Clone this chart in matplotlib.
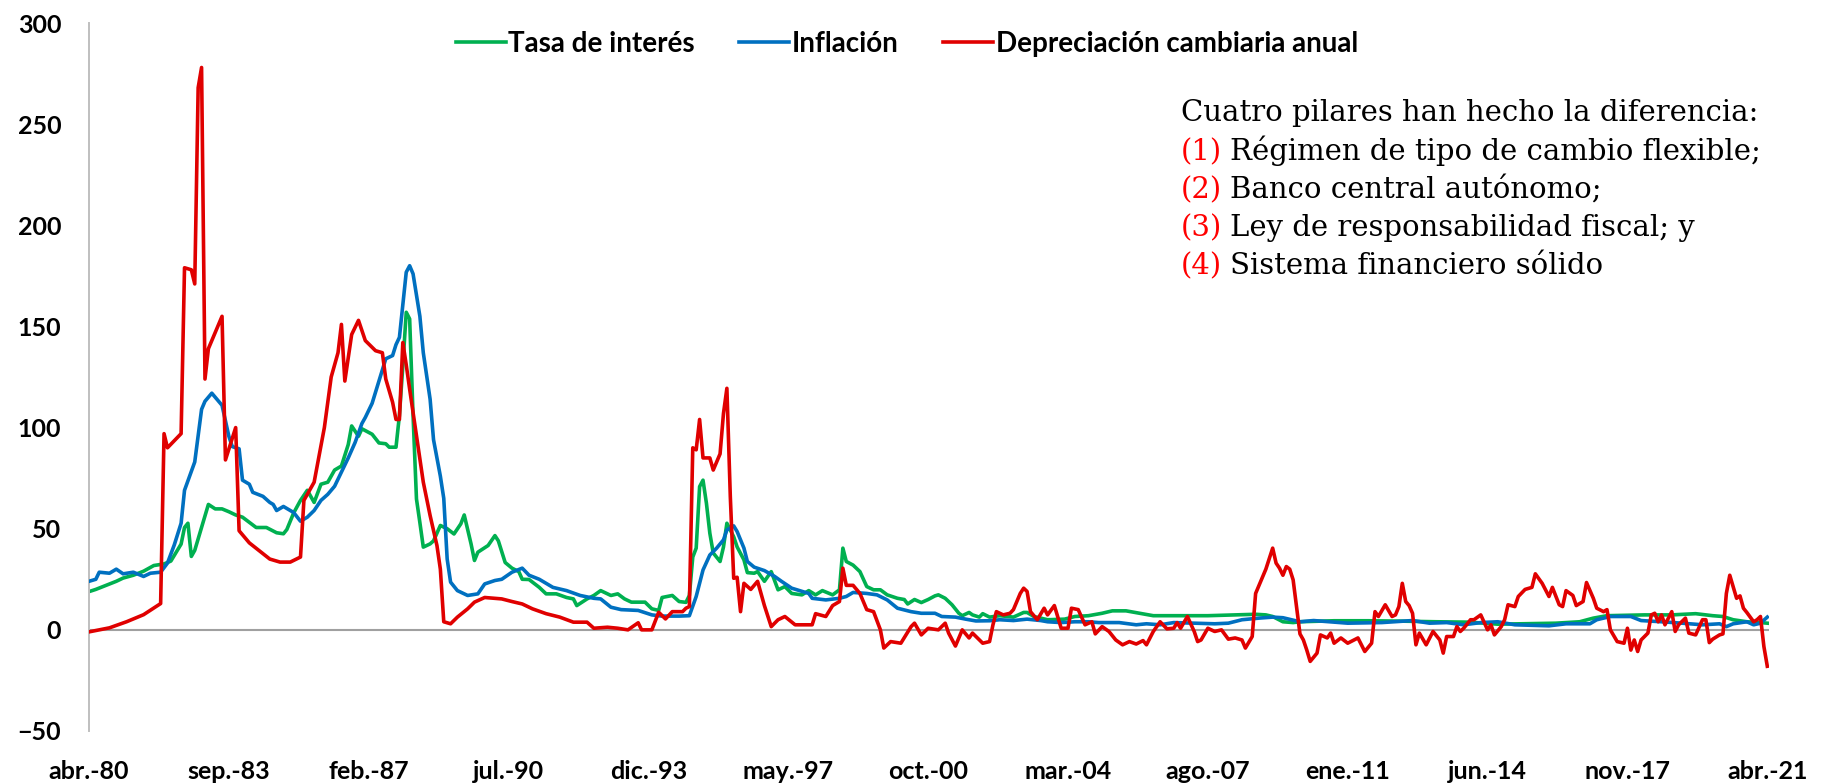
import matplotlib.pyplot as plt

# Months counted from abr.-80 (0) to abr.-21 (492), values in percent.
tasa_mes = [0, 2, 5, 8, 10, 13, 16, 19, 22, 24, 27, 28, 29, 30, 31, 33, 35, 37, 39, 41,
            43, 45, 49, 52, 55, 57, 58, 60, 62, 64, 65, 66, 68, 70, 72, 74, 76, 77, 79, 80,
            83, 85, 87, 88, 90, 91, 92, 93, 94, 95, 96, 97, 98, 100, 101, 103, 105, 107, 109, 110,
            112, 113, 114, 117, 119, 120, 122, 124, 126, 127, 129, 132, 134, 137, 140, 142, 143, 146, 148, 150,
            153, 155, 157, 159, 163, 165, 167, 168, 171, 173, 175, 176, 177, 178, 179, 180, 181, 182, 183, 185,
            186, 187, 189, 190, 192, 193, 195, 196, 198, 200, 202, 204, 206, 209, 211, 213, 215, 218, 220, 221,
            222, 224, 226, 228, 230, 232, 234, 237, 239, 240, 242, 244, 246, 248, 249, 251, 253, 255, 256, 258,
            259, 261, 262, 264, 267, 271, 274, 275, 277, 281, 286, 289, 293, 297, 300, 304, 308, 312, 320, 328,
            336, 342, 345, 347, 350, 353, 355, 365, 375, 385, 395, 405, 413, 420, 430, 437, 441, 445, 456, 464,
            471, 476, 479, 482, 486, 490, 492]
tasa = [18.9, 20, 22, 24, 25.6, 27, 29, 31.8, 32.6, 34, 42.4, 50.6, 52.7, 36.3, 39.3, 50.6, 62, 59.8, 59.8, 58.4,
        56.8, 55.7, 50.6, 50.6, 48, 47.5, 49.6, 57.8, 64, 69, 66, 63, 72, 73, 79, 81, 91.6, 100.8, 95.7, 99.4,
        96.7, 92.4, 92, 90.3, 90.3, 106, 130.6, 157, 153.7, 106, 64.7, 53, 40.9, 42.5, 44, 51.6, 50, 47.4, 52.4, 56.8,
        42.5, 34.3, 38.4, 41.7, 46.6, 44, 33.3, 30.5, 28.8, 25, 24.9, 21, 17.8, 17.8, 16, 15.3, 12, 15.3, 17, 19.4,
        17, 17.8, 15.3, 13.7, 13.7, 10.4, 9.6, 16, 17, 14, 13.6, 17, 36, 40.4, 70.8, 74, 62.6, 47.8, 38, 33.8,
        41, 52.7, 46, 41, 34.6, 28.3, 28, 28.8, 24, 28.8, 19.8, 21.4, 18, 17.3, 19.4, 17.3, 19.4, 17.3, 19.8, 40.4,
        33.8, 32, 28.8, 21.4, 19.8, 19.8, 17.3, 15.6, 15, 12.8, 15, 13.5, 15, 16.8, 17.3, 15.6, 12.4, 8.2, 7, 8.6,
        7.4, 6.3, 8, 6.3, 7, 6.3, 8.6, 8.6, 6.6, 5, 5.3, 6.6, 7, 8.2, 9.4, 9.4, 8.2, 7, 7, 7,
        7.4, 7.7, 7.4, 6.6, 4, 3.6, 4, 4.5, 4.5, 4.3, 4, 3.8, 2.8, 3, 3.3, 4, 5.8, 7, 7.4, 7.4,
        8, 7, 6.6, 5, 4, 3.6, 3.3]

inflacion_mes = [0, 2, 3, 6, 8, 10, 13, 16, 18, 21, 23, 25, 27, 28, 31, 33, 34, 36, 38, 39,
                 41, 42, 44, 45, 47, 48, 51, 53, 54, 55, 57, 60, 62, 64, 66, 68, 70, 72, 74, 76,
                 78, 80, 81, 83, 85, 87, 89, 90, 91, 93, 94, 95, 97, 98, 100, 101, 103, 104, 105, 106,
                 108, 111, 114, 116, 119, 121, 124, 127, 129, 132, 136, 140, 144, 148, 150, 153, 156, 161, 165, 168,
                 173, 176, 178, 180, 182, 184, 186, 187, 189, 190, 192, 193, 195, 198, 201, 203, 206, 211, 212, 216,
                 220, 222, 224, 228, 231, 234, 237, 241, 244, 248, 250, 254, 257, 260, 264, 267, 271, 275, 279, 281,
                 285, 289, 293, 296, 302, 307, 310, 314, 318, 324, 330, 334, 338, 343, 347, 350, 355, 359, 369, 379,
                 388, 393, 398, 403, 408, 413, 418, 428, 433, 440, 442, 446, 452, 455, 461, 467, 473, 478, 480, 482,
                 486, 488, 490, 492]
inflacion = [24, 25, 28.5, 28, 30, 27.7, 28.5, 26.4, 28, 28.5, 33, 42, 52.7, 69, 83, 109, 113, 117, 113, 111,
             95.7, 90.6, 89.5, 74, 72, 68, 66, 63, 62, 59, 61, 58, 53.7, 55.7, 59, 64, 67, 71, 78, 85,
             92.6, 102, 105, 112, 123, 134, 135.6, 141, 144.6, 176.8, 180, 176, 155, 137, 114, 94, 76, 65, 35, 23.6,
             19.4, 17, 17.8, 22.7, 24.4, 25, 28.5, 30.5, 27, 25, 21, 19.4, 17, 15.6, 15.3, 11.2, 10, 9.6, 7.4, 6.8,
             6.8, 7, 16.5, 29.6, 37, 40.4, 44.5, 49.4, 51.4, 48.6, 40.4, 33.8, 31, 29.3, 26.4, 24, 20.6, 18, 15.6, 14.8,
             15.6, 16.5, 18.5, 18, 17.3, 14.8, 10.7, 9, 8.2, 8.2, 6.6, 6.3, 5.3, 4.4, 4.5, 5, 4.6, 5.3, 4.6, 4,
             3.6, 4, 4, 3.6, 3.6, 2.5, 3, 2.5, 3.6, 3.3, 3, 3.3, 5, 5.8, 6.3, 6, 4, 4.6, 3.3, 3.6,
             4.6, 3.3, 3.6, 2.5, 3.6, 4, 2.5, 2, 3, 3, 5, 6.6, 6.6, 4.6, 4, 3.3, 2.5, 3, 1.6, 3,
             4, 2.5, 3.3, 6.3]

depreciacion_mes = [0, 6, 11, 16, 21, 22, 23, 27, 28, 30, 31, 32, 33, 34, 35, 37, 39, 40, 43, 44,
                    47, 50, 53, 56, 59, 62, 63, 66, 67, 69, 71, 73, 74, 75, 77, 79, 81, 84, 86, 87,
                    89, 90, 91, 92, 93, 94, 96, 98, 100, 102, 103, 104, 106, 108, 111, 113, 116, 121, 124, 127,
                    130, 134, 138, 142, 146, 148, 152, 155, 158, 161, 162, 165, 167, 169, 171, 174, 175, 176, 177, 178,
                    179, 180, 182, 183, 185, 186, 187, 188, 189, 190, 191, 192, 194, 196, 198, 200, 202, 204, 207, 210,
                    212, 213, 216, 218, 220, 221, 222, 224, 226, 228, 230, 232, 233, 235, 238, 241, 242, 244, 246, 249,
                    251, 252, 254, 256, 258, 259, 262, 264, 265, 266, 268, 270, 271, 273, 274, 275, 276, 278, 280, 281,
                    283, 285, 287, 288, 290, 292, 294, 295, 297, 299, 301, 303, 305, 307, 309, 310, 312, 314, 316, 318,
                    319, 320, 322, 324, 325, 326, 328, 330, 332, 334, 336, 338, 339, 341, 342, 345, 347, 348, 349, 350,
                    351, 352, 353, 355, 356, 357, 358, 360, 361, 363, 364, 365, 367, 369, 372, 374, 376, 377, 378, 380,
                    382, 383, 384, 385, 386, 387, 388, 389, 390, 392, 394, 396, 397, 398, 400, 401, 402, 403, 405, 406,
                    408, 410, 411, 412, 414, 415, 416, 418, 419, 421, 423, 424, 426, 428, 429, 431, 432, 433, 435, 436,
                    438, 439, 441, 442, 444, 445, 446, 448, 450, 451, 452, 453, 454, 455, 457, 458, 459, 460, 461, 462,
                    464, 465, 466, 468, 469, 471, 473, 474, 475, 476, 478, 479, 480, 481, 483, 484, 485, 486, 488, 489,
                    490, 491, 492]
depreciacion = [-1, 1, 4, 7.5, 13, 97, 90, 97, 179, 178, 171, 268, 278, 124, 139, 147, 155, 84, 100, 49,
                43, 39, 35, 33.5, 33.5, 36, 64, 73, 82, 100, 125, 137, 151, 123, 146, 153, 143, 138, 137, 124,
                112.5, 104, 104, 142, 131, 119, 96, 73, 56.5, 41.7, 30, 4, 3, 6.3, 10.4, 13.7, 16, 15.3, 14, 12.8,
                10.4, 8, 6.3, 3.8, 3.8, 0.8, 1.3, 0.8, 0, 3.5, 0, 0, 8.7, 5.4, 9, 9, 10.7, 11.5, 90, 89,
                104, 85, 85, 79, 87, 107, 119.4, 66, 25.5, 26, 9, 23, 20, 24, 12, 1.6, 5, 6.6, 2.5, 2.5,
                2.5, 8, 6.6, 12, 14, 30.5, 22, 22, 18, 10, 9, 0, -9, -5.8, -6.6, 1.6, 3.3, -2.5, 0.8, 0,
                3.3, -1.6, -8, 0, -4, -1.6, -6.6, -5.8, 2.5, 9, 7.4, 8.2, 10, 18, 20.6, 19, 9, 5, 10.7, 7.4,
                12, 0.8, 0.8, 10.7, 10, 2.5, 4, -2, 1.6, -0.8, -5, -7.4, -5.8, -7, -5.3, -7.4, -0.8, 4, 0.5, 0.8,
                3.6, 0.8, 6.6, -0.8, -5.8, -5, 0.8, -0.8, 0, -4.6, -4, -5, -9, -3.3, 18, 30, 40.4, 33, 30.5, 27,
                31.3, 30, 24.7, -2, -5, -10, -15.6, -11.5, -2.5, -4, -1.6, -6.6, -4, -6.6, -4, -10.7, -6.6, 9, 6.6, 12.4,
                6.6, 7.4, 11.5, 23, 14, 12, 8.2, -7.4, -1.6, -7.4, -0.8, -5, -11.5, -3.3, -3.3, 1.6, -0.8, 0.8, 5, 5,
                7.4, 0, 2.5, -2.5, 1.6, 5, 12.4, 11.5, 16.5, 20, 21, 27.7, 23, 16.5, 21, 12.4, 11.5, 19.4, 17, 12,
                14, 23.4, 15.6, 10.7, 9, 10, 0, -5.8, -6.6, 0.8, -10, -5, -10.7, -5, -1.6, 7.4, 8.2, 4, 7.4, 2.5,
                9, -0.8, 2.5, 5.8, -1.6, -2.5, 5, 5, -6.3, -4.6, -2.5, -2, 18, 27, 15.6, 16.8, 10.7, 8.6, 4, 5,
                6.6, -8.2, -18]

etiquetas = ['abr.-80', 'sep.-83', 'feb.-87', 'jul.-90', 'dic.-93', 'may.-97', 'oct.-00',
             'mar.-04', 'ago.-07', 'ene.-11', 'jun.-14', 'nov.-17', 'abr.-21']
pilares = ['Régimen de tipo de cambio flexible;', 'Banco central autónomo;',
           'Ley de responsabilidad fiscal; y', 'Sistema financiero sólido']

W, H = 1828, 784
fig = plt.figure(figsize=(W / 100, H / 100), dpi=100)
ax = fig.add_axes([89 / W, (H - 731) / H, 1680 / W, 708 / H])

ax.axhline(0, color='#a0a0a0', lw=1.5, zorder=1)
ax.plot(tasa_mes, tasa, color='#00b050', lw=2.6, label='Tasa de interés', zorder=2)
ax.plot(inflacion_mes, inflacion, color='#0070c0', lw=2.6, label='Inflación', zorder=3)
ax.plot(depreciacion_mes, depreciacion, color='#e00000', lw=2.6,
        label='Depreciación cambiaria anual', zorder=4)

ax.set_xlim(0, 492.5)
ax.set_ylim(-50, 300)
ax.set_yticks(range(-50, 301, 50))
ax.set_xticks([41 * i for i in range(len(etiquetas))])
ax.set_xticklabels(etiquetas)
for lab in ax.get_xticklabels() + ax.get_yticklabels():
    lab.set_fontweight('bold')
    lab.set_fontsize(18)
    lab.set_fontfamily('Lato')
ax.tick_params(axis='both', length=0)
ax.tick_params(axis='x', pad=21)
ax.tick_params(axis='y', pad=20)
for s in ['top', 'right', 'bottom']:
    ax.spines[s].set_visible(False)
ax.spines['left'].set_color('#bfbfbf')
ax.spines['left'].set_linewidth(1.4)

fig.legend(loc='center', bbox_to_anchor=(907 / W, 1 - 44 / H), ncol=3, frameon=False,
           prop={'family': 'Lato', 'weight': 'bold', 'size': 20},
           handlelength=1.8, handletextpad=0.1, columnspacing=1.6)

# Text box on the right
fig.text(1181 / W, 1 - 121 / H, 'Cuatro pilares han hecho la diferencia:',
         family='DejaVu Serif', size=21, va='baseline')
for i, txt in enumerate(pilares):
    y = 1 - (160 + 38 * i) / H
    fig.text(1181 / W, y, '(%d)' % (i + 1), color='red', family='DejaVu Serif', size=21, va='baseline')
    fig.text(1230 / W, y, txt, family='DejaVu Serif', size=21, va='baseline')

fig.savefig('out.png', dpi=100)
